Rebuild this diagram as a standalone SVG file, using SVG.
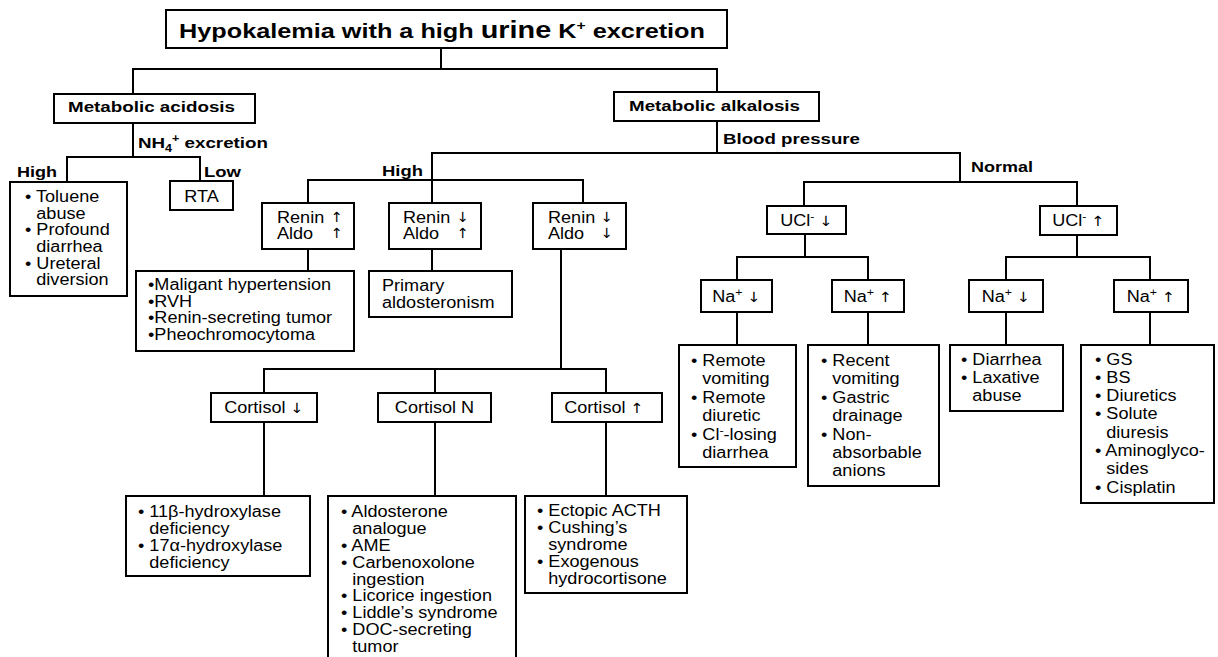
<svg xmlns="http://www.w3.org/2000/svg" width="1218" height="657" viewBox="0 0 1218 657">
<style>
.bx{fill:#fff;stroke:#000;stroke-width:2}
.cn{fill:none;stroke:#000;stroke-width:2;stroke-linecap:square}
.b{font-family:"Liberation Sans",Arial,sans-serif;font-size:16px;fill:#000}
.m{text-anchor:middle}
.l{font-family:"Liberation Sans",Arial,sans-serif;font-size:15px;font-weight:bold;fill:#000}
.s{font-size:11px}
.a{font-family:"DejaVu Sans",sans-serif;font-size:14px;fill:#000}
</style>
<rect width="1218" height="657" fill="#fff"/>
<g id="connectors">
<path class="cn" d="M441,48V69M133,69H717M133,69V94M717,69V92
M133,123V157M67,157H200M67,157V182M200,157V181
M717,121V153M432,153H960M432,153V180M308,180H583M308,180V203M432,180V203M583,180V203
M308,249V271M432,249V271M561,249V369M264,369H606M264,369V393M435,369V393M606,369V393
M264,422V496M435,422V496M606,422V496
M960,153V182M804,182H1077M804,182V206M1077,182V206
M805,234V257M737,257H868M737,257V280M868,257V280
M1077,235V257M1006,257H1150M1006,257V280M1150,257V280
M737,312V345M868,312V345M1006,312V345M1150,312V345"/>
<text class="l" x="138" y="148" textLength="130" lengthAdjust="spacingAndGlyphs">NH<tspan dy="4" font-size="10">4</tspan><tspan dy="-10" font-size="10">+</tspan><tspan dy="6"> excretion</tspan></text>
<text class="l" x="17" y="177" textLength="40" lengthAdjust="spacingAndGlyphs">High</text>
<text class="l" x="204" y="177" textLength="37" lengthAdjust="spacingAndGlyphs">Low</text>
<text class="l" x="382" y="176" textLength="41" lengthAdjust="spacingAndGlyphs">High</text>
<text class="l" x="723" y="144" textLength="137" lengthAdjust="spacingAndGlyphs">Blood pressure</text>
<text class="l" x="971" y="172" textLength="62" lengthAdjust="spacingAndGlyphs">Normal</text>
</g>
<g id="title">
<rect class="bx" x="166" y="10" width="561" height="38"/>
<text class="l" x="179" y="38" style="font-size:21px" textLength="526" lengthAdjust="spacingAndGlyphs">Hypokalemia with a high <tspan style="font-size:24px">urine</tspan> K<tspan dy="-8" font-size="13">+</tspan><tspan dy="8"> excretion</tspan></text>
</g>
<g id="acidosis">
<rect class="bx" x="54" y="94" width="201" height="29"/>
<text class="l" x="68" y="112" textLength="167" lengthAdjust="spacingAndGlyphs">Metabolic acidosis</text>
</g>
<g id="alkalosis">
<rect class="bx" x="614" y="92" width="205" height="29"/>
<text class="l" x="629" y="111" textLength="171" lengthAdjust="spacingAndGlyphs">Metabolic alkalosis</text>
</g>
<g id="toluene">
<rect class="bx" x="10" y="182" width="117" height="114"/>
<text class="b" transform="translate(25,202) scale(1.13,1)"><tspan x="0" y="0">• Toluene</tspan><tspan x="10" y="16.7">abuse</tspan><tspan x="0" y="33.3">• Profound</tspan><tspan x="10" y="50">diarrhea</tspan><tspan x="0" y="66.7">• Ureteral</tspan><tspan x="10" y="83.3">diversion</tspan></text>
</g>
<g id="rta">
<rect class="bx" x="170" y="181" width="63" height="29"/>
<text class="b m" transform="translate(201.5,202) scale(1.13,1)">RTA</text>
</g>
<g id="renin1">
<rect class="bx" x="262" y="203" width="92" height="46"/>
<text class="b" transform="translate(277,223) scale(1.13,1)">Renin</text>
<text class="b" transform="translate(277,239) scale(1.13,1)">Aldo</text>
<text class="a m" transform="translate(337,222) scale(1.05,1)">↑</text><text class="a m" transform="translate(337,238) scale(1.05,1)">↑</text>
</g>
<g id="renin2">
<rect class="bx" x="389" y="203" width="92" height="46"/>
<text class="b" transform="translate(403,223) scale(1.13,1)">Renin</text>
<text class="b" transform="translate(403,239) scale(1.13,1)">Aldo</text>
<text class="a m" transform="translate(463,222) scale(1.05,1)">↓</text><text class="a m" transform="translate(463,238) scale(1.05,1)">↑</text>
</g>
<g id="renin3">
<rect class="bx" x="533" y="203" width="93" height="46"/>
<text class="b" transform="translate(548,223) scale(1.13,1)">Renin</text>
<text class="b" transform="translate(548,239) scale(1.13,1)">Aldo</text>
<text class="a m" transform="translate(607,222) scale(1.05,1)">↓</text><text class="a m" transform="translate(607,238) scale(1.05,1)">↓</text>
</g>
<g id="malignant">
<rect class="bx" x="136" y="271" width="218" height="80"/>
<text class="b" transform="translate(148,290) scale(1.13,1)"><tspan x="0" y="0">•Maligant hypertension</tspan><tspan x="0" y="16.7">•RVH</tspan><tspan x="0" y="33.3">•Renin-secreting tumor</tspan><tspan x="0" y="50">•Pheochromocytoma</tspan></text>
</g>
<g id="primary">
<rect class="bx" x="369" y="271" width="143" height="46"/>
<text class="b" transform="translate(382,291) scale(1.13,1)"><tspan x="0" y="0">Primary</tspan><tspan x="0" y="17">aldosteronism</tspan></text>
</g>
<g id="cortisol-low">
<rect class="bx" x="211" y="393" width="106" height="29"/>
<text class="b m" transform="translate(264,413) scale(1.13,1)">Cortisol <tspan class="a">↓</tspan></text>
</g>
<g id="cortisol-n">
<rect class="bx" x="378" y="393" width="113" height="29"/>
<text class="b m" transform="translate(434.5,413) scale(1.13,1)">Cortisol N</text>
</g>
<g id="cortisol-high">
<rect class="bx" x="552" y="393" width="110" height="29"/>
<text class="b m" transform="translate(604,413) scale(1.13,1)">Cortisol <tspan class="a">↑</tspan></text>
</g>
<g id="hydroxylase">
<rect class="bx" x="126" y="496" width="184" height="80"/>
<text class="b" transform="translate(138,517) scale(1.13,1)"><tspan x="0" y="0">• 11β-hydroxylase</tspan><tspan x="10" y="17">deficiency</tspan><tspan x="0" y="34">• 17α-hydroxylase</tspan><tspan x="10" y="51">deficiency</tspan></text>
</g>
<g id="aldosterone">
<rect class="bx" x="328" y="496" width="188" height="175"/>
<text class="b" transform="translate(341,517) scale(1.13,1)"><tspan x="0" y="0">• Aldosterone</tspan><tspan x="10" y="16.9">analogue</tspan><tspan x="0" y="33.8">• AME</tspan><tspan x="0" y="50.7">• Carbenoxolone</tspan><tspan x="10" y="67.6">ingestion</tspan><tspan x="0" y="84.5">• Licorice ingestion</tspan><tspan x="0" y="101.4">• Liddle’s syndrome</tspan><tspan x="0" y="118.3">• DOC-secreting</tspan><tspan x="10" y="135.2">tumor</tspan></text>
</g>
<g id="ectopic">
<rect class="bx" x="525" y="496" width="162" height="97"/>
<text class="b" transform="translate(537,516) scale(1.13,1)"><tspan x="0" y="0">• Ectopic ACTH</tspan><tspan x="0" y="17">• Cushing’s</tspan><tspan x="10" y="34">syndrome</tspan><tspan x="0" y="51">• Exogenous</tspan><tspan x="10" y="68">hydrocortisone</tspan></text>
</g>
<g id="ucl-low">
<rect class="bx" x="767" y="206" width="79" height="28"/>
<text class="b m" transform="translate(806.5,226) scale(1.13,1)">UCl<tspan dy="-6" class="s">-</tspan><tspan dy="6"> </tspan><tspan class="a">↓</tspan></text>
</g>
<g id="ucl-high">
<rect class="bx" x="1040" y="206" width="77" height="29"/>
<text class="b m" transform="translate(1078.5,226) scale(1.13,1)">UCl<tspan dy="-6" class="s">-</tspan><tspan dy="6"> </tspan><tspan class="a">↑</tspan></text>
</g>
<g id="na1">
<rect class="bx" x="701" y="280" width="71" height="32"/>
<text class="b m" transform="translate(736.5,302) scale(1.13,1)">Na<tspan dy="-6" class="s">+</tspan><tspan dy="6"> </tspan><tspan class="a">↓</tspan></text>
</g>
<g id="na2">
<rect class="bx" x="832" y="280" width="72" height="32"/>
<text class="b m" transform="translate(868,302) scale(1.13,1)">Na<tspan dy="-6" class="s">+</tspan><tspan dy="6"> </tspan><tspan class="a">↑</tspan></text>
</g>
<g id="na3">
<rect class="bx" x="969" y="280" width="74" height="32"/>
<text class="b m" transform="translate(1006,302) scale(1.13,1)">Na<tspan dy="-6" class="s">+</tspan><tspan dy="6"> </tspan><tspan class="a">↓</tspan></text>
</g>
<g id="na4">
<rect class="bx" x="1114" y="280" width="74" height="32"/>
<text class="b m" transform="translate(1151,302) scale(1.13,1)">Na<tspan dy="-6" class="s">+</tspan><tspan dy="6"> </tspan><tspan class="a">↑</tspan></text>
</g>
<g id="remote">
<rect class="bx" x="679" y="345" width="117" height="122"/>
<text class="b" transform="translate(691,366) scale(1.13,1)"><tspan x="0" y="0">• Remote</tspan><tspan x="10" y="18.4">vomiting</tspan><tspan x="0" y="36.8">• Remote</tspan><tspan x="10" y="55.2">diuretic</tspan><tspan x="0" y="73.6">• Cl<tspan dy="-6" class="s">-</tspan><tspan dy="6">-losing</tspan></tspan><tspan x="10" y="92">diarrhea</tspan></text>
</g>
<g id="recent">
<rect class="bx" x="808" y="345" width="131" height="141"/>
<text class="b" transform="translate(821,366) scale(1.13,1)"><tspan x="0" y="0">• Recent</tspan><tspan x="10" y="18.4">vomiting</tspan><tspan x="0" y="36.8">• Gastric</tspan><tspan x="10" y="55.2">drainage</tspan><tspan x="0" y="73.6">• Non-</tspan><tspan x="10" y="92">absorbable</tspan><tspan x="10" y="110.4">anions</tspan></text>
</g>
<g id="diarrhea">
<rect class="bx" x="950" y="345" width="113" height="66"/>
<text class="b" transform="translate(961,365) scale(1.13,1)"><tspan x="0" y="0">• Diarrhea</tspan><tspan x="0" y="18">• Laxative</tspan><tspan x="10" y="36">abuse</tspan></text>
</g>
<g id="gs">
<rect class="bx" x="1081" y="345" width="133" height="158"/>
<text class="b" transform="translate(1095,364.5) scale(1.13,1)"><tspan x="0" y="0">• GS</tspan><tspan x="0" y="18.3">• BS</tspan><tspan x="0" y="36.6">• Diuretics</tspan><tspan x="0" y="54.9">• Solute</tspan><tspan x="10" y="73.2">diuresis</tspan><tspan x="0" y="91.5">• Aminoglyco-</tspan><tspan x="10" y="109.8">sides</tspan><tspan x="0" y="128.1">• Cisplatin</tspan></text>
</g>
</svg>
